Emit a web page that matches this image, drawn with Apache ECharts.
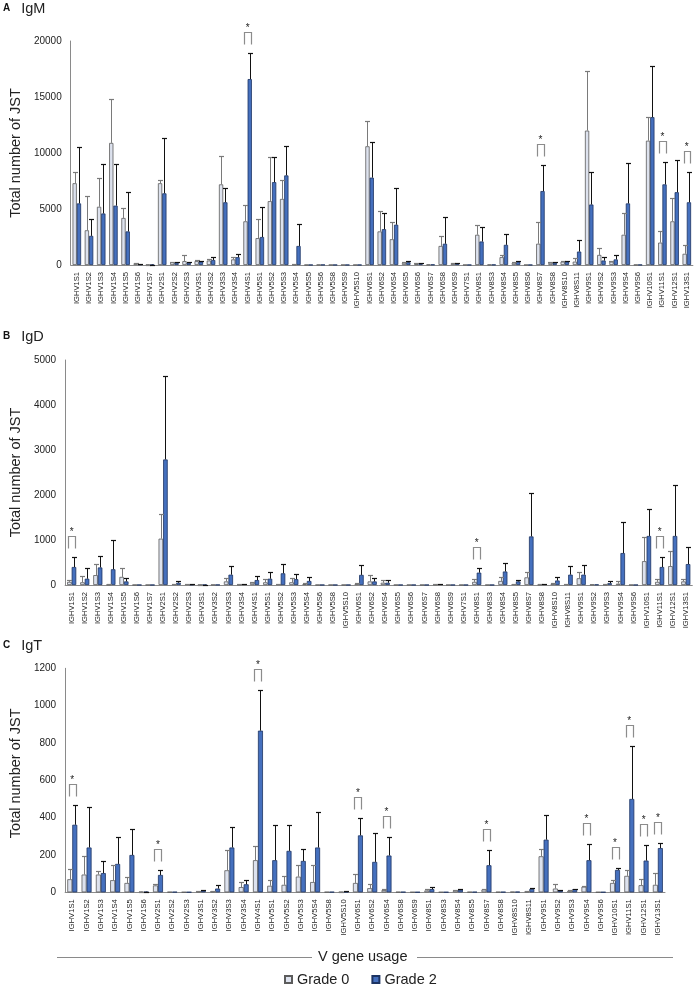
<!DOCTYPE html>
<html><head><meta charset="utf-8">
<script src="https://cdn.jsdelivr.net/npm/echarts@6/dist/echarts.min.js"></script>
<style>html,body{margin:0;padding:0;background:#fff}#c{width:694px;height:987px}</style>
</head><body><div id="c"></div>
<script>
// ---------- Panel A: IgM ----------
const igmCats = ['IGHV1S1','IGHV1S2','IGHV1S3','IGHV1S4','IGHV1S5','IGHV1S6','IGHV1S7','IGHV2S1','IGHV2S2','IGHV2S3','IGHV3S1','IGHV3S2','IGHV3S3','IGHV3S4','IGHV4S1','IGHV5S1','IGHV5S2','IGHV5S3','IGHV5S4','IGHV5S5','IGHV5S6','IGHV5S8','IGHV5S9','IGHV5S10','IGHV6S1','IGHV6S2','IGHV6S4','IGHV6S5','IGHV6S6','IGHV6S7','IGHV6S8','IGHV6S9','IGHV7S1','IGHV8S1','IGHV8S3','IGHV8S4','IGHV8S5','IGHV8S6','IGHV8S7','IGHV8S8','IGHV8S10','IGHV8S11','IGHV9S1','IGHV9S2','IGHV9S3','IGHV9S4','IGHV9S6','IGHV10S1','IGHV11S1','IGHV12S1','IGHV13S1'];
const igmGrade0    = [7300,3100,5200,10900,4200,150,30,7300,250,350,350,400,7200,500,3900,2400,5700,5900,50,10,20,10,10,10,10600,3000,2300,200,100,40,1700,150,10,2700,30,700,200,10,1900,200,300,300,12000,900,300,2700,20,11100,2000,3900,1000];
const igmGrade0Err = [8300,6200,7800,14800,5100,200,40,7600,300,900,450,500,9700,700,5400,4100,9600,7600,100,10,20,10,10,10,12900,4800,3800,300,150,40,2600,200,10,3600,30,900,300,10,3800,250,400,600,17300,1500,400,4600,20,13200,3000,6000,1800];
const igmGrade2    = [5500,2600,4600,5300,3000,60,30,6400,200,200,300,450,5600,700,16600,2500,7400,8000,1700,10,20,10,10,10,7800,3200,3600,250,150,40,1900,150,10,2100,30,1800,300,10,6600,200,300,1200,5400,400,500,5500,20,13200,7200,6500,5600];
const igmGrade2Err = [10500,4100,9000,9000,6500,100,40,11300,300,300,400,700,6900,1000,18900,5200,9600,10600,3700,10,20,10,10,10,11000,4600,6900,400,200,40,4300,200,10,3400,30,2800,350,10,8900,250,400,2200,8300,700,900,9100,20,17800,9200,9400,8300];
const igmSig = ['IGHV4S1','IGHV8S7','IGHV11S1','IGHV13S1'];
const igmTicks = [0,5000,10000,15000,20000];

// ---------- Panel B: IgD ----------
const igdCats = ['IGHV1S1','IGHV1S2','IGHV1S3','IGHV1S4','IGHV1S5','IGHV1S6','IGHV1S7','IGHV2S1','IGHV2S2','IGHV2S3','IGHV3S1','IGHV3S2','IGHV3S3','IGHV3S4','IGHV4S1','IGHV5S1','IGHV5S2','IGHV5S3','IGHV5S4','IGHV5S6','IGHV5S8','IGHV5S10','IGHV6S1','IGHV6S2','IGHV6S4','IGHV6S5','IGHV6S6','IGHV6S7','IGHV6S8','IGHV6S9','IGHV7S1','IGHV8S1','IGHV8S3','IGHV8S4','IGHV8S5','IGHV8S7','IGHV8S8','IGHV8S10','IGHV8S11','IGHV9S1','IGHV9S2','IGHV9S3','IGHV9S4','IGHV9S6','IGHV10S1','IGHV11S1','IGHV12S1','IGHV13S1'];
const igdGrade0    = [70,60,220,10,180,2,2,1030,20,20,5,5,80,10,50,60,20,60,20,2,2,2,30,80,50,2,2,2,10,2,2,70,2,90,20,170,10,30,20,150,10,10,30,2,530,70,420,80];
const igdGrade0Err = [120,200,470,20,380,2,2,1570,30,30,10,5,160,20,70,140,30,150,40,2,2,2,50,220,120,2,2,2,20,2,2,130,2,170,30,280,20,40,30,290,10,20,80,2,1060,130,760,130];
const igdGrade2    = [400,140,390,350,80,2,2,2790,50,10,5,5,230,20,110,140,260,130,90,2,2,2,225,80,50,2,2,2,20,2,2,275,2,300,80,1080,20,100,230,230,10,40,710,2,1090,400,1090,465];
const igdGrade2Err = [630,370,640,1000,150,2,2,4650,90,20,10,5,430,30,200,300,465,250,180,2,2,2,450,150,110,2,2,2,30,2,2,370,2,500,110,2050,30,180,430,440,10,80,1400,2,1700,630,2220,850];
const igdSig = ['IGHV1S1','IGHV8S1','IGHV11S1'];
const igdTicks = [0,1000,2000,3000,4000,5000];

// ---------- Panel C: IgT ----------
const igtCats = ['IGHV1S1','IGHV1S2','IGHV1S3','IGHV1S4','IGHV1S5','IGHV1S6','IGHV2S1','IGHV2S2','IGHV2S3','IGHV3S1','IGHV3S2','IGHV3S3','IGHV3S4','IGHV4S1','IGHV5S1','IGHV5S2','IGHV5S3','IGHV5S4','IGHV5S8','IGHV5S10','IGHV6S1','IGHV6S2','IGHV6S4','IGHV6S8','IGHV6S9','IGHV8S1','IGHV8S3','IGHV8S4','IGHV8S5','IGHV8S7','IGHV8S8','IGHV8S10','IGHV8S11','IGHV9S1','IGHV9S2','IGHV9S3','IGHV9S4','IGHV9S6','IGHV10S1','IGHV11S1','IGHV12S1','IGHV13S1'];
const igtGrade0    = [70,95,95,65,50,3,37,2,1,5,6,118,28,172,35,40,84,55,2,2,50,22,12,2,1,10,1,10,2,15,2,3,5,193,20,8,30,1,50,88,38,40];
const igtGrade0Err = [127,197,115,145,83,4,42,2,1,7,8,225,55,248,65,88,146,148,2,3,100,43,20,2,1,18,1,13,2,20,2,3,8,232,43,10,33,1,68,120,70,103];
const igtGrade2    = [362,240,103,152,200,3,93,2,1,8,20,240,43,866,172,222,168,240,2,3,305,163,197,2,1,17,1,14,2,145,2,3,18,282,8,17,172,1,120,500,170,237];
const igtGrade2Err = [470,455,168,296,340,4,118,2,1,10,37,348,68,1085,361,361,232,432,2,5,398,320,296,2,1,30,1,20,2,225,2,3,23,414,10,20,258,1,132,786,255,262];
const igtSig = ['IGHV1S1','IGHV2S1','IGHV4S1','IGHV6S1','IGHV6S4','IGHV8S7','IGHV9S4','IGHV10S1','IGHV11S1','IGHV12S1','IGHV13S1'];
const igtTicks = [0,200,400,600,800,1000,1200];

const panelLetters = ['A','B','C'];
const panelNames = ['IgM','IgD','IgT'];
const yTitle = 'Total number of JST';
const xTitle = 'V gene usage';
const seriesNames = ['Grade 0','Grade 2'];

// ---------- rendering ----------
const FONT = "'Liberation Sans', Arial, Helvetica, sans-serif";
const G0_FILL = '#dde2ee', G0_BORDER = '#5c5c5c', G0_ERR = '#7a7a7a';
const G2_FILL = '#4570be', G2_BORDER = '#1d3463', G2_ERR = '#111111';

const panels = [
  {cats: igmCats, g0: igmGrade0, g0e: igmGrade0Err, g2: igmGrade2, g2e: igmGrade2Err, sig: igmSig, ticks: igmTicks,
   grid: {left: 62.1, top: 41, width: 630.8, height: 224}, nameGap: 40, titleTop: 1, namePad: 0},
  {cats: igdCats, g0: igdGrade0, g0e: igdGrade0Err, g2: igdGrade2, g2e: igdGrade2Err, sig: igdSig, ticks: igdTicks,
   grid: {left: 56.7, top: 360, width: 635.6, height: 225}, nameGap: 34, titleTop: 329, namePad: 0},
  {cats: igtCats, g0: igtGrade0, g0e: igtGrade0Err, g2: igtGrade2, g2e: igtGrade2Err, sig: igtSig, ticks: igtTicks,
   grid: {left: 56, top: 668.3, width: 609, height: 224}, nameGap: 34, titleTop: 638, namePad: [0, 0, 0, 14]}
];

const BAR_FRAC = 0.35; // barCategoryGap 30%, barGap 0

function errRender(side, color) {
  return function (params, api) {
    const i = api.value(0), m = api.value(1), t = api.value(2);
    if (!(t > m)) return;
    const band = api.size([1, 0])[0];
    const bw = band * BAR_FRAC;
    const p0 = api.coord([i, m]);
    const p1 = api.coord([i, t]);
    const x = Math.round(p0[0] + side * bw / 2) + 0.5;
    const y1 = Math.round(p1[1]) + 0.5;
    return {type: 'group', children: [
      {type: 'line', shape: {x1: x, y1: p0[1], x2: x, y2: y1}, style: {stroke: color, lineWidth: 1}},
      {type: 'line', shape: {x1: x - 2.5, y1: y1, x2: x + 2.5, y2: y1}, style: {stroke: color, lineWidth: 1.2}}
    ]};
  };
}

function sigRender(params, api) {
  const i = api.value(0), v = api.value(1);
  const band = api.size([1, 0])[0];
  const bw = band * BAR_FRAC;
  const p = api.coord([i, v]);
  const top = Math.round(p[1] - 21) + 0.5, bot = top + 12;
  const x1 = Math.round(p[0] - bw / 2 - 1) + 0.5, x2 = Math.round(p[0] + bw / 2 + 1) + 0.5;
  return {type: 'group', children: [
    {type: 'polyline', shape: {points: [[x1, bot], [x1, top], [x2, top], [x2, bot]]}, style: {stroke: '#8c8c8c', lineWidth: 1.2, fill: null}},
    {type: 'text', style: {text: '*', x: p[0], y: top - 4, align: 'center', verticalAlign: 'middle', fontSize: 10, fill: '#222', fontFamily: FONT}}
  ]};
}

const grids = [], xAxes = [], yAxes = [], series = [], titles = [];
panels.forEach((P, k) => {
  grids.push(Object.assign({containLabel: false}, P.grid));
  titles.push({
    left: 3, top: P.titleTop, padding: 0,
    text: '{a|' + panelLetters[k] + '}{b|' + panelNames[k] + '}',
    textStyle: {fontWeight: 'normal', rich: {
      a: {fontSize: 10, fontWeight: 'bold', color: '#111', fontFamily: FONT},
      b: {fontSize: 14.5, fontWeight: 'normal', color: '#222', fontFamily: FONT, padding: [0, 0, 0, 11]}
    }}
  });
  xAxes.push({
    type: 'category', gridIndex: k, data: P.cats,
    axisLine: {lineStyle: {color: '#8a8a8a', width: 1}},
    axisTick: {show: false},
    axisLabel: {interval: 0, rotate: 90, fontSize: 7.6, color: '#222', margin: 7, fontFamily: FONT}
  });
  yAxes.push({
    type: 'value', gridIndex: k,
    min: P.ticks[0], max: P.ticks[P.ticks.length - 1], interval: P.ticks[1] - P.ticks[0],
    axisLine: {show: true, lineStyle: {color: '#8a8a8a', width: 1}},
    axisTick: {show: false}, splitLine: {show: false},
    axisLabel: {fontSize: 10, color: '#222', margin: 9, fontFamily: FONT, formatter: v => String(v)},
    name: yTitle, nameLocation: 'middle', nameGap: P.nameGap,
    nameTextStyle: {fontSize: 14.5, color: '#222', fontFamily: FONT, padding: P.namePad}
  });
  series.push({
    name: seriesNames[0], type: 'bar', xAxisIndex: k, yAxisIndex: k, data: P.g0,
    barGap: '0%', barCategoryGap: '30%',
    itemStyle: {color: G0_FILL, borderColor: G0_BORDER, borderWidth: 0.8}
  });
  series.push({
    name: seriesNames[1], type: 'bar', xAxisIndex: k, yAxisIndex: k, data: P.g2,
    barGap: '0%', barCategoryGap: '30%',
    itemStyle: {color: G2_FILL, borderColor: G2_BORDER, borderWidth: 0.8}
  });
  series.push({
    type: 'custom', xAxisIndex: k, yAxisIndex: k, clip: false, z: 5,
    renderItem: errRender(-1, G0_ERR),
    encode: {x: 0, y: [1, 2]},
    data: P.cats.map((c, i) => [i, P.g0[i], P.g0e[i]])
  });
  series.push({
    type: 'custom', xAxisIndex: k, yAxisIndex: k, clip: false, z: 5,
    renderItem: errRender(1, G2_ERR),
    encode: {x: 0, y: [1, 2]},
    data: P.cats.map((c, i) => [i, P.g2[i], P.g2e[i]])
  });
  series.push({
    type: 'custom', xAxisIndex: k, yAxisIndex: k, clip: false, z: 6,
    renderItem: sigRender,
    encode: {x: 0, y: 1},
    data: P.sig.map(name => { const i = P.cats.indexOf(name); return [i, Math.max(P.g0e[i], P.g2e[i], P.g0[i], P.g2[i])]; })
  });
});

const chart = echarts.init(document.getElementById('c'), null, {renderer: 'canvas'});
chart.setOption({
  animation: false,
  backgroundColor: '#ffffff',
  title: titles,
  grid: grids, xAxis: xAxes, yAxis: yAxes, series: series,
  legend: {
    data: seriesNames, left: 284, top: 972, padding: 0, itemWidth: 7, itemHeight: 7, itemGap: 22,
    icon: 'rect', selectedMode: false,
    textStyle: {fontSize: 14.5, color: '#222', fontFamily: FONT}
  },
  graphic: [
    {type: 'text', left: 318, top: 949, style: {text: xTitle, fontSize: 14.5, fill: '#222', fontFamily: FONT}},
    {type: 'line', shape: {x1: 57, y1: 957.5, x2: 312, y2: 957.5}, style: {stroke: '#8a8a8a', lineWidth: 1}},
    {type: 'line', shape: {x1: 417, y1: 957.5, x2: 673, y2: 957.5}, style: {stroke: '#8a8a8a', lineWidth: 1}}
  ]
});
</script>
</body></html>
